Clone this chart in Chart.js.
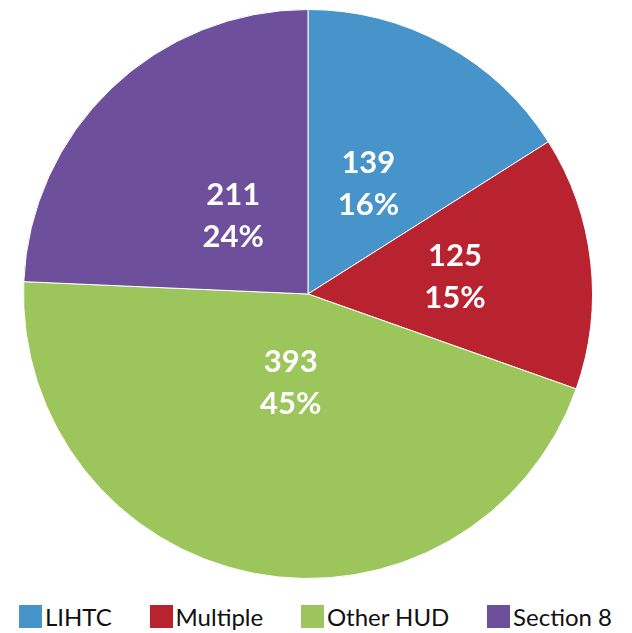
<!DOCTYPE html>
<html>
<head>
<meta charset="utf-8">
<script src="https://cdn.jsdelivr.net/npm/chart.js@4"></script>
<style>
  body { margin: 0; background: #fff; }
  #wrap { position: relative; width: 632px; height: 633px; }
  #legend {
    position: absolute; left: 19px; right: 20px; top: 602px;
    display: flex; justify-content: space-between;
    font-family: Lato, sans-serif; font-size: 24px; color: #111;
  }
  .item { display: flex; align-items: center; }
  .box { width: 23px; height: 23px; margin-right: 3px; }
</style>
</head>
<body>
<div id="wrap">
  <canvas id="pieChart" width="632" height="600"></canvas>
  <div id="legend"></div>
</div>
<script>
/* housing units by program */

const categories = ['LIHTC', 'Multiple', 'Other HUD', 'Section 8'];
const unitCounts = [139, 125, 393, 211];
const pctLabels = ['16%', '15%', '45%', '24%'];
const colors = ['#4794cb', '#b9222f', '#9cc55b', '#6e4f9c'];

// how far out from the centre each label sits (fraction of radius)
const labelRadius = [0.44, 0.52, 0.32, 0.38];

const sliceLabels = {
  id: 'sliceLabels',
  afterDatasetsDraw(chart){
    const c = chart.ctx;
    const arcs = chart.getDatasetMeta(0).data;
    c.save();
    c.fillStyle = '#fff';
    c.font = 'bold 31px Lato, sans-serif';
    c.textAlign = 'center';
    c.textBaseline = 'middle';
    arcs.forEach((arc, i) => {
      const p = arc.getProps(['x', 'y', 'startAngle', 'endAngle', 'outerRadius'], true);
      const mid = (p.startAngle + p.endAngle) / 2;
      const r = p.outerRadius * labelRadius[i];
      const x = p.x + Math.cos(mid) * r;
      const y = p.y + Math.sin(mid) * r;
      c.fillText(unitCounts[i].toString(), x, y - 21);
      c.fillText(pctLabels[i], x, y + 21);
    });
    c.restore();
  }
};

const ctx = document.getElementById('pieChart');
const pieChart = new Chart(ctx, {
  type: 'pie',
  data: {
    labels: categories,
    datasets: [{
      data: unitCounts,
      backgroundColor: colors,
      borderColor: '#ffffff',
      borderWidth: 1
    }]
  },
  options: {
    responsive: false,
    animation: false,
    layout: { padding: { top: 9, bottom: 21, left: 0, right: 16 } },
    plugins: {
      legend: { display: false },
      tooltip: { enabled: false }
    }
  },
  plugins: [sliceLabels]
});

// legend below the pie
const legendElem = document.getElementById('legend');
categories.forEach((name, i) => {
  const item = document.createElement('div');
  item.className = 'item';
  const box = document.createElement('span');
  box.className = 'box';
  box.style.background = colors[i];
  const txt = document.createElement('span');
  txt.textContent = name;
  item.appendChild(box);
  item.appendChild(txt);
  legendElem.appendChild(item);
});
</script>
</body>
</html>
